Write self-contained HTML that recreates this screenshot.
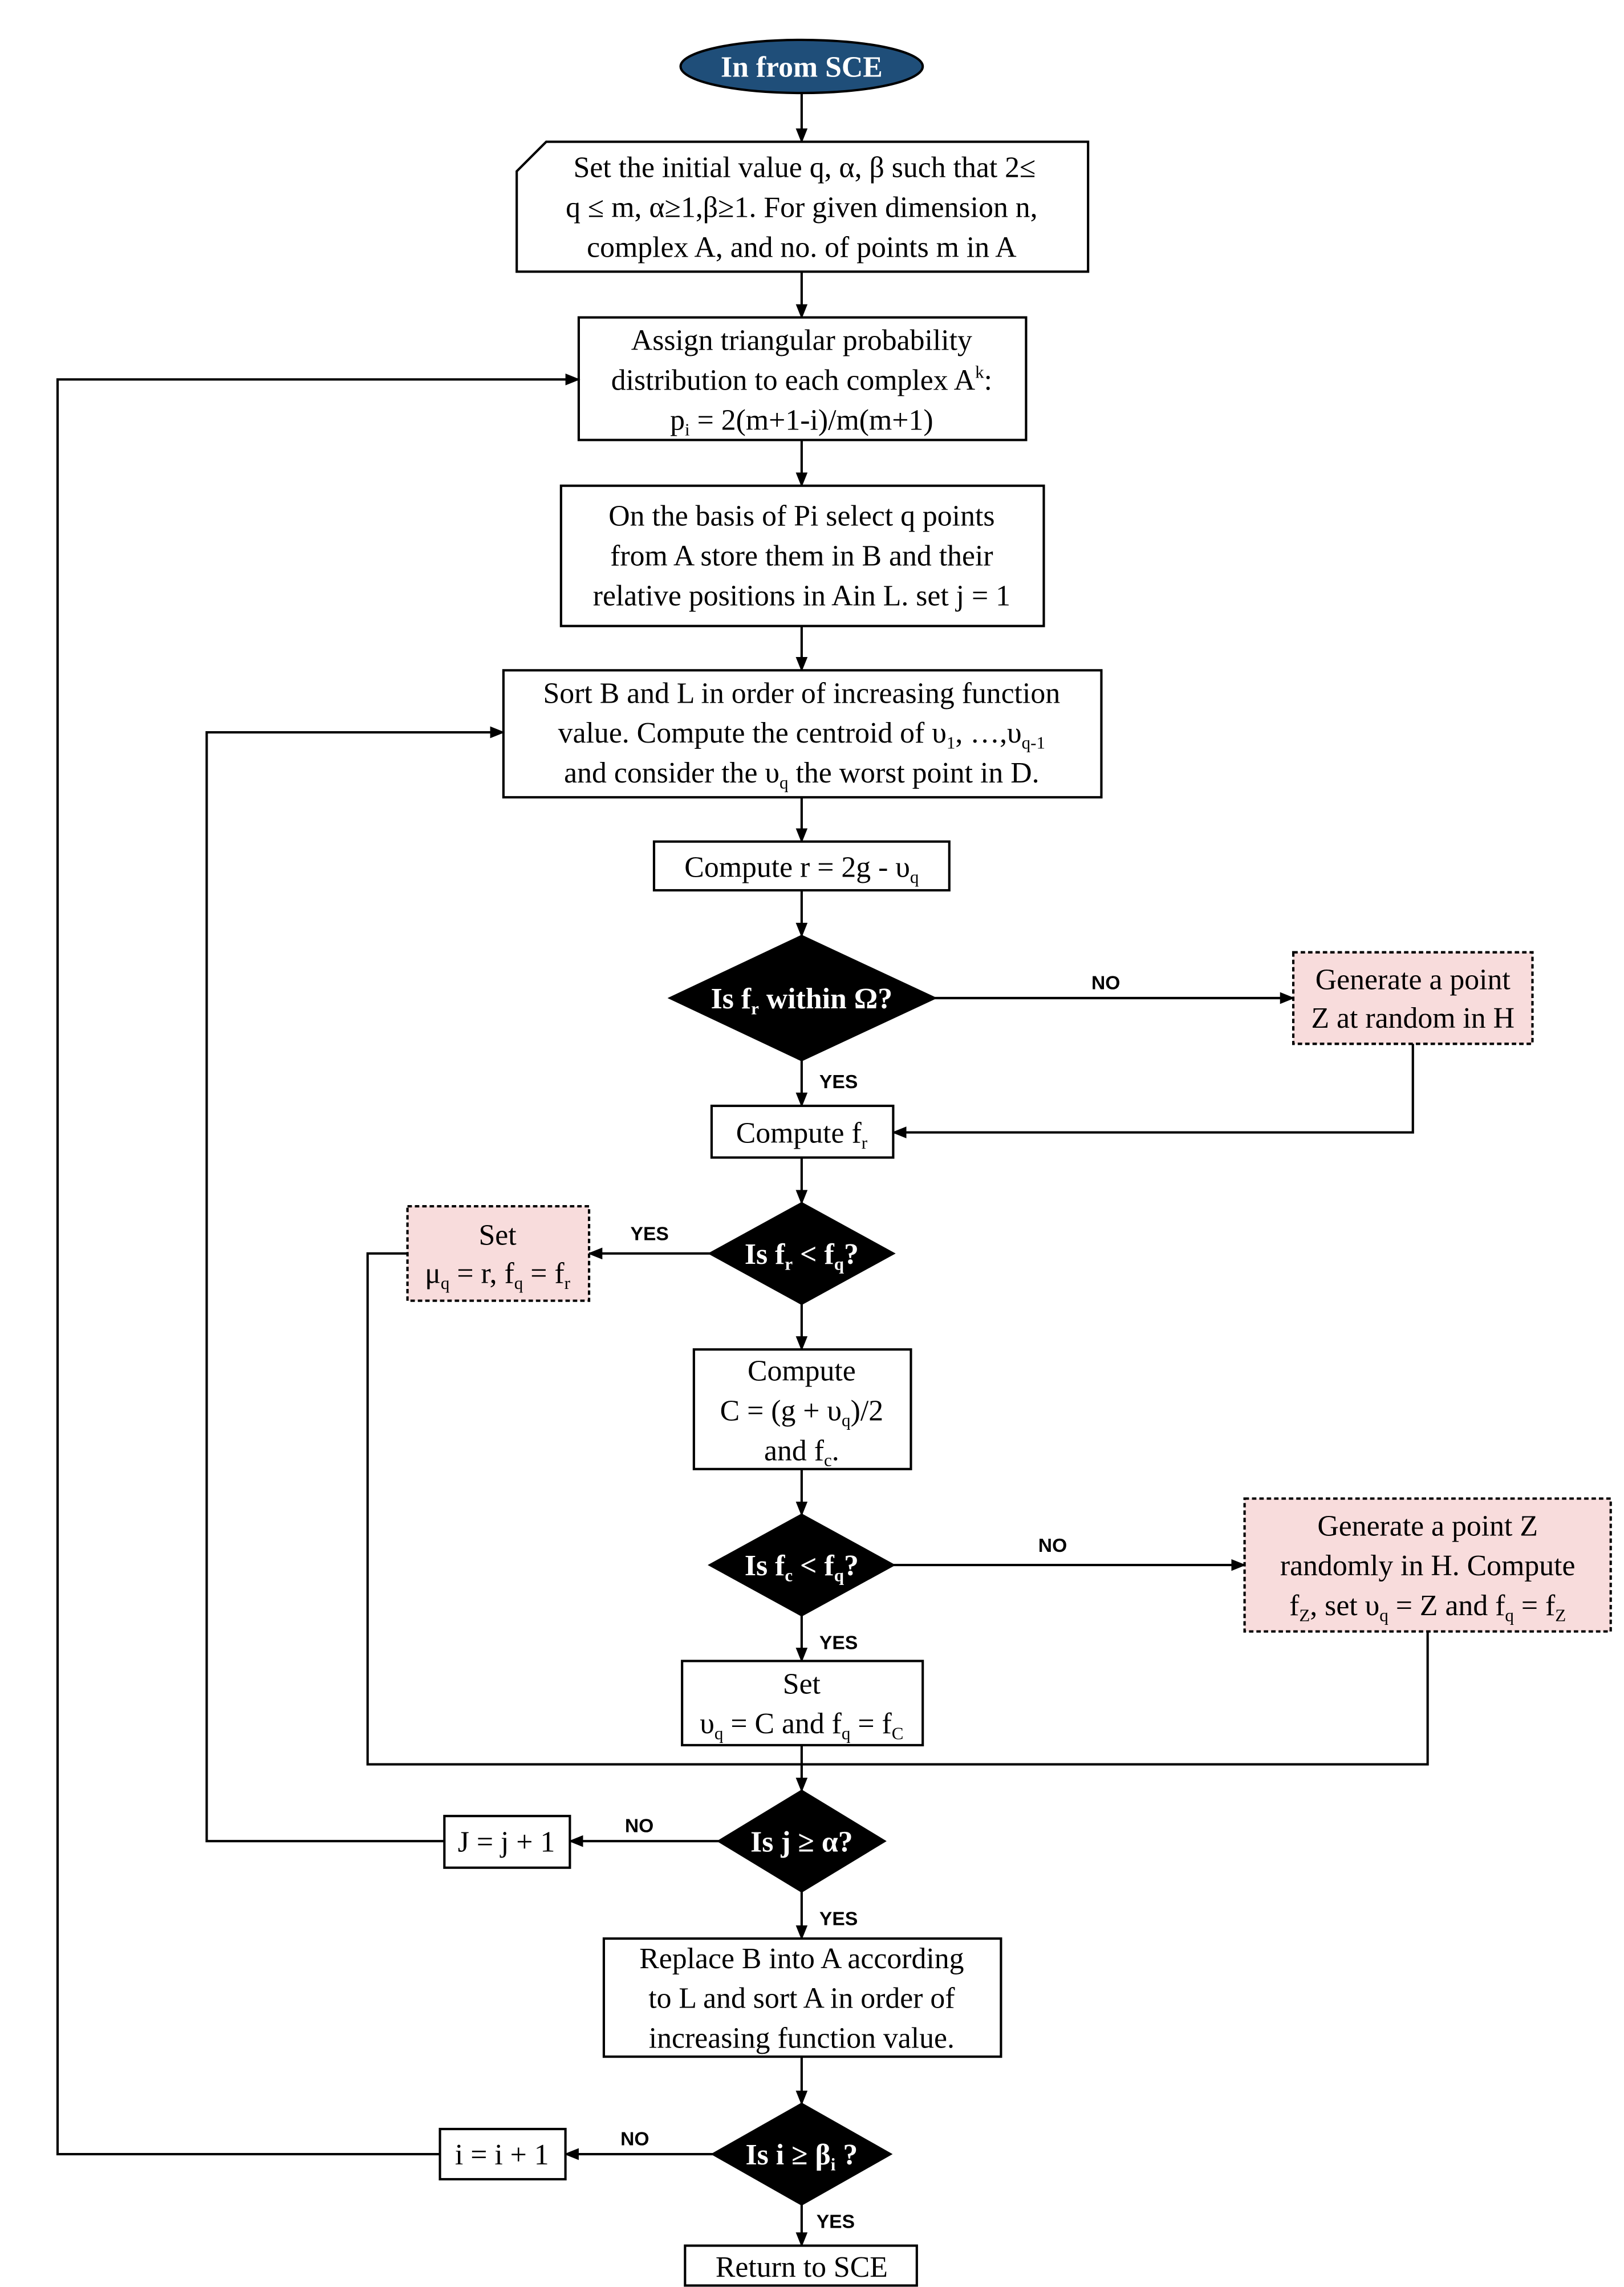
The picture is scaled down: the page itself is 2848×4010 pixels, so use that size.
<!DOCTYPE html>
<html><head><meta charset="utf-8"><style>
html,body{margin:0;padding:0;background:#fff;}
svg{display:block;}
text{font-family:"Liberation Serif",serif;font-size:20px;fill:#000;}
.l{font-family:"Liberation Sans",sans-serif;font-weight:bold;font-size:13px;}
.d{fill:#fff;font-weight:bold;font-size:20px;}
</style></head><body>
<svg width="2848" height="4010" viewBox="0 0 1100 1549" preserveAspectRatio="none" xmlns="http://www.w3.org/2000/svg">
<defs><marker id="a" markerWidth="10" markerHeight="8" refX="9" refY="4" orient="auto" markerUnits="userSpaceOnUse"><path d="M0,0 L10,4 L0,8 z" fill="#000"/></marker></defs>
<g stroke="#000" stroke-width="1.6" fill="none">
<ellipse cx="543" cy="45" rx="82" ry="18" fill="#1f4e79" stroke="#000"/>
<line x1="543" y1="63" x2="543" y2="96" marker-end="url(#a)"/>
<path d="M370,96 H737 V184 H350 V116 Z" fill="#fff"/>
<line x1="543" y1="184" x2="543" y2="215" marker-end="url(#a)"/>
<rect x="392" y="215" width="303" height="83" fill="#fff"/>
<line x1="543" y1="298" x2="543" y2="329" marker-end="url(#a)"/>
<rect x="380" y="329" width="327" height="95" fill="#fff"/>
<line x1="543" y1="424" x2="543" y2="454" marker-end="url(#a)"/>
<rect x="341" y="454" width="405" height="86" fill="#fff"/>
<line x1="543" y1="540" x2="543" y2="570" marker-end="url(#a)"/>
<rect x="443" y="570" width="200" height="33" fill="#fff"/>
<line x1="543" y1="603" x2="543" y2="634" marker-end="url(#a)"/>
<path d="M543,634 L633,676 L543,718 L454,676 Z" fill="#000"/>
<line x1="633" y1="676" x2="876" y2="676" marker-end="url(#a)"/>
<rect x="876" y="645" width="162" height="62" fill="#f8dcdc" stroke-dasharray="3,2"/>
<path d="M957,707 V767 H605" marker-end="url(#a)"/>
<line x1="543" y1="718" x2="543" y2="749" marker-end="url(#a)"/>
<rect x="482" y="749" width="123" height="35" fill="#fff"/>
<line x1="543" y1="784" x2="543" y2="815" marker-end="url(#a)"/>
<path d="M543,815 L605,849 L543,883 L481,849 Z" fill="#000"/>
<line x1="481" y1="849" x2="399" y2="849" marker-end="url(#a)"/>
<rect x="276" y="817" width="123" height="64" fill="#f8dcdc" stroke-dasharray="3,2"/>
<path d="M276,849 H249 V1195 H967 V1105"/>
<line x1="543" y1="883" x2="543" y2="914" marker-end="url(#a)"/>
<rect x="470" y="914" width="147" height="81" fill="#fff"/>
<line x1="543" y1="995" x2="543" y2="1026" marker-end="url(#a)"/>
<path d="M543,1026 L605,1060 L543,1094 L481,1060 Z" fill="#000"/>
<line x1="605" y1="1060" x2="843" y2="1060" marker-end="url(#a)"/>
<rect x="843" y="1015" width="248" height="90" fill="#f8dcdc" stroke-dasharray="3,2"/>
<line x1="543" y1="1094" x2="543" y2="1125" marker-end="url(#a)"/>
<rect x="462" y="1125" width="163" height="57" fill="#fff"/>
<line x1="543" y1="1182" x2="543" y2="1213" marker-end="url(#a)"/>
<path d="M543,1213 L599,1247 L543,1281 L487,1247 Z" fill="#000"/>
<line x1="487" y1="1247" x2="386" y2="1247" marker-end="url(#a)"/>
<rect x="301" y="1230" width="85" height="35" fill="#fff"/>
<path d="M301,1247 H140 V496 H341" marker-end="url(#a)"/>
<line x1="543" y1="1281" x2="543" y2="1313" marker-end="url(#a)"/>
<rect x="409" y="1313" width="269" height="80" fill="#fff"/>
<line x1="543" y1="1393" x2="543" y2="1425" marker-end="url(#a)"/>
<path d="M543,1425 L603,1459 L543,1493 L483,1459 Z" fill="#000"/>
<line x1="483" y1="1459" x2="383" y2="1459" marker-end="url(#a)"/>
<rect x="298" y="1442" width="85" height="34" fill="#fff"/>
<path d="M298,1459 H39 V257 H392" marker-end="url(#a)"/>
<line x1="543" y1="1493" x2="543" y2="1521" marker-end="url(#a)"/>
<rect x="464" y="1521" width="157" height="27" fill="#fff"/>
</g>
<g text-anchor="middle">
<text x="543" y="52" class="d">In from SCE</text>
<text x="545" y="120">Set the initial value q, α, β such that 2≤</text>
<text x="543" y="147">q ≤ m, α≥1,β≥1. For given dimension n,</text>
<text x="543" y="174">complex A, and no. of points m in A</text>
<text x="543" y="237">Assign triangular probability</text>
<text x="543" y="264">distribution to each complex A<tspan font-size="12" dy="-8">k</tspan><tspan dy="8">:</tspan></text>
<text x="543" y="291">p<tspan font-size="12" dy="4">i</tspan><tspan dy="-4"> = 2(m+1-i)/m(m+1)</tspan></text>
<text x="543" y="356">On the basis of Pi select q points</text>
<text x="543" y="383">from A store them in B and their</text>
<text x="543" y="410">relative positions in Ain L. set j = 1</text>
<text x="543" y="476">Sort B and L in order of increasing function</text>
<text x="543" y="503">value. Compute the centroid of υ<tspan font-size="12" dy="4">1</tspan><tspan dy="-4">, …,υ</tspan><tspan font-size="12" dy="4">q-1</tspan></text>
<text x="543" y="530">and consider the υ<tspan font-size="12" dy="4">q</tspan><tspan dy="-4"> the worst point in D.</tspan></text>
<text x="543" y="594">Compute r = 2g - υ<tspan font-size="12" dy="4">q</tspan></text>
<text x="543" y="683" class="d">Is f<tspan font-size="12" dy="4">r</tspan><tspan dy="-4"> within Ω?</tspan></text>
<text x="957" y="670">Generate a point</text>
<text x="957" y="696">Z at random in H</text>
<text x="543" y="774">Compute f<tspan font-size="12" dy="4">r</tspan></text>
<text x="543" y="856" class="d">Is f<tspan font-size="12" dy="4">r</tspan><tspan dy="-4"> &lt; f</tspan><tspan font-size="12" dy="4">q</tspan><tspan dy="-4">?</tspan></text>
<text x="337" y="843">Set</text>
<text x="337" y="869">μ<tspan font-size="12" dy="4">q</tspan><tspan dy="-4"> = r, f</tspan><tspan font-size="12" dy="4">q</tspan><tspan dy="-4"> = f</tspan><tspan font-size="12" dy="4">r</tspan></text>
<text x="543" y="935">Compute</text>
<text x="543" y="962">C = (g + υ<tspan font-size="12" dy="4">q</tspan><tspan dy="-4">)/2</tspan></text>
<text x="543" y="989">and f<tspan font-size="12" dy="4">c</tspan><tspan dy="-4">.</tspan></text>
<text x="543" y="1067" class="d">Is f<tspan font-size="12" dy="4">c</tspan><tspan dy="-4"> &lt; f</tspan><tspan font-size="12" dy="4">q</tspan><tspan dy="-4">?</tspan></text>
<text x="967" y="1040">Generate a point Z</text>
<text x="967" y="1067">randomly in H. Compute</text>
<text x="967" y="1094">f<tspan font-size="12" dy="4">Z</tspan><tspan dy="-4">, set υ</tspan><tspan font-size="12" dy="4">q</tspan><tspan dy="-4"> = Z and  f</tspan><tspan font-size="12" dy="4">q</tspan><tspan dy="-4"> = f</tspan><tspan font-size="12" dy="4">Z</tspan></text>
<text x="543" y="1147">Set</text>
<text x="543" y="1174">υ<tspan font-size="12" dy="4">q</tspan><tspan dy="-4"> = C and f</tspan><tspan font-size="12" dy="4">q</tspan><tspan dy="-4"> = f</tspan><tspan font-size="12" dy="4">C</tspan></text>
<text x="543" y="1254" class="d">Is j ≥ α?</text>
<text x="343" y="1254">J = j + 1</text>
<text x="543" y="1333">Replace B into A according</text>
<text x="543" y="1360">to L and sort A in order of</text>
<text x="543" y="1387">increasing function value.</text>
<text x="543" y="1466" class="d">Is i ≥ β<tspan font-size="12" dy="4">i</tspan><tspan dy="-4"> ?</tspan></text>
<text x="340" y="1466">i = i + 1</text>
<text x="543" y="1542">Return to SCE</text>
<text x="749" y="670" class="l">NO</text>
<text x="568" y="737" class="l">YES</text>
<text x="440" y="840" class="l">YES</text>
<text x="713" y="1051" class="l">NO</text>
<text x="568" y="1117" class="l">YES</text>
<text x="433" y="1241" class="l">NO</text>
<text x="568" y="1304" class="l">YES</text>
<text x="430" y="1453" class="l">NO</text>
<text x="566" y="1509" class="l">YES</text>
</g>
</svg>
</body></html>
